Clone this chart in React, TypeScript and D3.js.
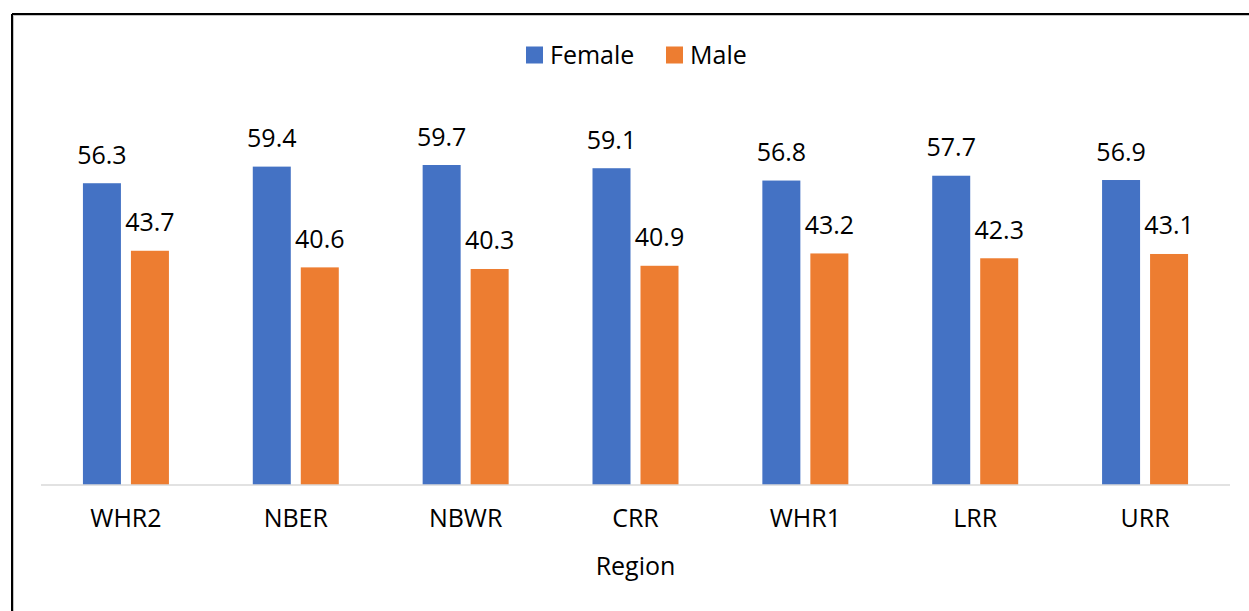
import React from "react";
import * as d3 from "d3";

const categories = ["WHR2", "NBER", "NBWR", "CRR", "WHR1", "LRR", "URR"];
const femaleValues = [56.3, 59.4, 59.7, 59.1, 56.8, 57.7, 56.9];
const maleValues = [43.7, 40.6, 40.3, 40.9, 43.2, 42.3, 43.1];
const seriesNames = ["Female", "Male"];
const seriesColors = ["#4472C4", "#ED7D31"];
const axisTitle = "Region";

const W = 1249;
const H = 611;
const FONT = "'Open Sans', 'Noto Sans', sans-serif";
const FS = 25;

export default function App() {
  const x = d3.scaleBand<string>().domain(categories).range([41, 1230]).padding(0);
  const y = d3.scaleLinear().domain([0, 70]).range([485, 485 - 70 * 5.36]);
  const barW = 38;
  const gap = 10;
  const series = [femaleValues, maleValues];

  return (
    <svg
      width={W}
      height={H}
      style={{ position: "absolute", left: 0, top: 0, background: "#fff" }}
      fontFamily={FONT}
    >
      <rect x={0} y={0} width={W} height={H} fill="#fff" />
      {/* frame */}
      <line x1={12} y1={14} x2={W} y2={14} stroke="#000" strokeWidth={2} />
      <line x1={12} y1={14} x2={12} y2={H} stroke="#000" strokeWidth={2} />
      <line x1={14} y1={15.5} x2={W} y2={15.5} stroke="#888" strokeWidth={1} opacity={0.5} />
      <line x1={13.5} y1={15} x2={13.5} y2={H} stroke="#888" strokeWidth={1} opacity={0.5} />

      {/* legend */}
      {seriesNames.map((name, i) => {
        const lx = [526, 666][i];
        return (
          <g key={name}>
            <rect x={lx} y={46.5} width={17} height={17} fill={seriesColors[i]} />
            <text x={lx + 24} y={63.5} fontSize={FS} fill="#000">
              {name}
            </text>
          </g>
        );
      })}

      {/* bars */}
      {categories.map((c, ci) => {
        const cx = (x(c) as number) + x.bandwidth() / 2;
        return (
          <g key={c}>
            {series.map((vals, si) => {
              const bx = si === 0 ? cx - gap / 2 - barW : cx + gap / 2;
              const v = vals[ci];
              return (
                <g key={si}>
                  <rect x={bx} y={y(v)} width={barW} height={y(0) - y(v)} fill={seriesColors[si]} />
                  <text
                    x={bx + barW / 2}
                    y={y(v) - 19.5}
                    textAnchor="middle"
                    fontSize={FS}
                    fill="#000"
                  >
                    {v.toFixed(1)}
                  </text>
                </g>
              );
            })}
            <text x={cx} y={527} textAnchor="middle" fontSize={FS} fill="#000">
              {c}
            </text>
          </g>
        );
      })}

      {/* axis line */}
      <line x1={41} y1={485} x2={1230} y2={485} stroke="#d9d9d9" strokeWidth={1.5} />

      <text x={635.5} y={575} textAnchor="middle" fontSize={FS} fill="#000">
        {axisTitle}
      </text>
    </svg>
  );
}
